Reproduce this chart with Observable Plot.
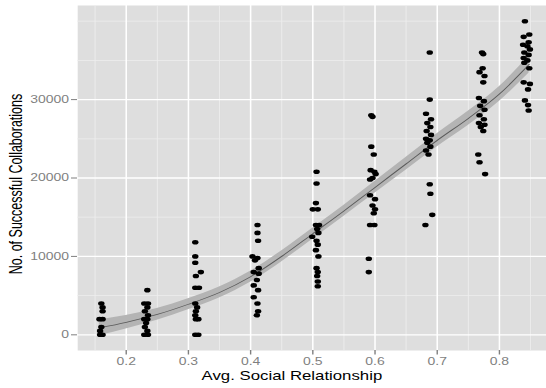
<!DOCTYPE html>
<html>
<head>
<meta charset="utf-8">
<script src="https://cdn.jsdelivr.net/npm/d3@7"></script>
<script src="https://cdn.jsdelivr.net/npm/@observablehq/plot@0.6"></script>
<style>
  html, body { margin: 0; padding: 0; background: #ffffff; }
  #chart { width: 546px; height: 388px; overflow: hidden; }
</style>
</head>
<body>
<div id="chart"></div>
<script>
// ---- data ----
const groupX = [0.160, 0.232, 0.314, 0.407, 0.502, 0.596, 0.686, 0.772, 0.843];

const groupValues = [
  [4000, 3500, 3000, 2000, 2000, 1000, 500, 0, 0, 0],
  [5700, 4000, 4000, 3500, 3000, 2500, 2000, 2000, 1500, 1000, 500, 0, 0],
  [11800, 10000, 9200, 8000, 7500, 6000, 6000, 4000, 3500, 3000, 2500, 2000, 2000, 0, 0],
  [14000, 13000, 12000, 10000, 9800, 9500, 8500, 8000, 7800, 7000, 6300, 5700, 4800, 4000, 3000, 2500],
  [20800, 19300, 16800, 16000, 16000, 14000, 14000, 13500, 13000, 12500, 12000, 11500, 10800, 10000, 8500, 8000, 7500, 6800, 6200],
  [28000, 27800, 24000, 23000, 21000, 20800, 20500, 20000, 19800, 17800, 17300, 16500, 16000, 15500, 14000, 14000, 9700, 8000],
  [36000, 30000, 28200, 27500, 27000, 26500, 26000, 25500, 25000, 24800, 24500, 24000, 23500, 23000, 19200, 18000, 15300, 14000],
  [36000, 35800, 34000, 33500, 33000, 32200, 30200, 29800, 29200, 28700, 28000, 27500, 27000, 26800, 26500, 26000, 23000, 22000, 20500],
  [40000, 38300, 38000, 37300, 37000, 36800, 36400, 36000, 35700, 35300, 35000, 34700, 34000, 32200, 32000, 31300, 29900, 29300, 28600]
];

// horizontal jitter of each point
const groupJitter = [
  [0.000, 0.002, 0.002, -0.003, 0.002, 0.000, -0.002, 0.002, -0.002, 0.000],
  [0.002, -0.003, 0.003, 0.002, -0.002, 0.003, -0.003, 0.002, 0.000, -0.002, 0.002, -0.003, 0.003],
  [-0.003, -0.003, -0.003, 0.006, -0.002, -0.003, 0.003, -0.003, 0.000, -0.002, -0.003, 0.002, -0.002, -0.003, 0.002],
  [0.004, 0.004, 0.005, -0.004, 0.004, 0.000, 0.006, -0.002, 0.006, 0.003, -0.002, 0.005, -0.002, 0.004, 0.005, 0.003],
  [0.004, 0.004, 0.003, -0.002, 0.006, 0.003, 0.008, 0.005, 0.007, -0.003, 0.004, 0.006, 0.003, 0.007, 0.004, 0.006, 0.005, 0.006, 0.006],
  [-0.002, 0.000, -0.002, 0.002, -0.003, 0.003, 0.005, 0.000, -0.004, -0.004, 0.004, 0.000, 0.004, 0.002, -0.004, 0.003, -0.006, -0.006],
  [0.002, 0.002, -0.004, 0.004, -0.002, 0.003, -0.003, 0.004, -0.004, 0.002, -0.002, 0.003, -0.004, 0.000, 0.002, 0.003, 0.006, -0.005],
  [0.000, 0.002, 0.001, -0.004, 0.004, 0.002, -0.005, 0.003, -0.003, 0.004, -0.004, 0.003, -0.005, 0.004, -0.002, 0.002, -0.006, -0.004, 0.005],
  [-0.002, 0.005, -0.004, 0.004, -0.005, 0.002, 0.006, -0.003, 0.004, -0.004, 0.002, -0.003, 0.005, -0.004, 0.006, 0.003, -0.002, 0.003, 0.004]
];

// loess-like smooth with its confidence band
const smoothX  = [0.157, 0.20, 0.25, 0.30, 0.35, 0.40, 0.45, 0.50, 0.55, 0.60, 0.65, 0.70, 0.75, 0.80, 0.848];
const smoothY  = [900, 1600, 2600, 3900, 5400, 7400, 10000, 12900, 15800, 18800, 21800, 24800, 27600, 30700, 34500];
const smoothSE = [1000, 850, 750, 700, 700, 700, 700, 700, 700, 750, 800, 850, 900, 950, 1100];

const xMajor = [0.2, 0.3, 0.4, 0.5, 0.6, 0.7, 0.8];
const xMinor = [0.15, 0.25, 0.35, 0.45, 0.55, 0.65, 0.75, 0.85];
const yMajor = [0, 10000, 20000, 30000];
const yMinor = [5000, 15000, 25000, 35000, 40000];

const xTitle = "Avg. Social Relationship";
const yTitle = "No. of Successful Collaborations";

// ---- tables built from the arrays ----
const points = [];
groupValues.forEach((vals, g) => {
  vals.forEach((v, i) => points.push({x: groupX[g] + groupJitter[g][i], y: v}));
});
const smooth = smoothX.map((x, i) => ({x, y: smoothY[i], lo: smoothY[i] - smoothSE[i], hi: smoothY[i] + smoothSE[i]}));

const W = 390, H = 388;   // drawn then stretched horizontally to 546 like the reference

const svg = Plot.plot({
  width: W,
  height: H,
  marginLeft: 55,
  marginRight: 0,
  marginTop: 5,
  marginBottom: 38,
  style: {fontFamily: "'Liberation Sans', Arial, Helvetica, sans-serif", background: "#ffffff"},
  x: {domain: [0.122, 0.876]},
  y: {domain: [-2000, 42000]},
  marks: [
    Plot.frame({fill: "#dedede", stroke: null}),
    Plot.ruleX(xMinor, {stroke: "#eeeeee", strokeWidth: 0.7}),
    Plot.ruleY(yMinor, {stroke: "#eeeeee", strokeWidth: 0.8}),
    Plot.ruleX(xMajor, {stroke: "#ffffff", strokeWidth: 1.1}),
    Plot.ruleY(yMajor, {stroke: "#ffffff", strokeWidth: 1.3}),
    Plot.areaY(smooth, {x: "x", y1: "lo", y2: "hi", fill: "#b4b4b4", curve: "monotone-x"}),
    Plot.lineY(smooth, {x: "x", y: "y", stroke: "#5a5a5a", strokeWidth: 0.8, curve: "monotone-x"}),
    Plot.dot(points, {x: "x", y: "y", r: 2.3, fill: "#000000", stroke: null}),
    Plot.axisX({ticks: xMajor, tickFormat: d3.format(".1f"), tickSize: 4.5, tickPadding: 3, fontSize: 10, color: "#7f7f7f", label: null}),
    Plot.axisY({ticks: yMajor, tickFormat: d3.format("d"), tickSize: 4.3, tickPadding: 1.8, fontSize: 10, color: "#7f7f7f", label: null}),
    Plot.text([xTitle], {text: d => d, frameAnchor: "bottom", textAnchor: "middle", dy: 26, dx: -14.5, lineAnchor: "middle", fontSize: 12, fill: "#000000"}),
    Plot.text([yTitle], {text: d => d, frameAnchor: "left", textAnchor: "middle", rotate: -90, dx: -43.6, dy: 6, lineAnchor: "middle", fontSize: 12.5, fill: "#000000"})
  ]
});

svg.setAttribute("width", 546);
svg.setAttribute("height", 388);
svg.setAttribute("viewBox", `0 0 ${W} ${H}`);
svg.setAttribute("preserveAspectRatio", "none");
svg.style.width = "546px";
svg.style.height = "388px";
svg.style.maxWidth = "none";
document.getElementById("chart").appendChild(svg);
</script>
</body>
</html>
